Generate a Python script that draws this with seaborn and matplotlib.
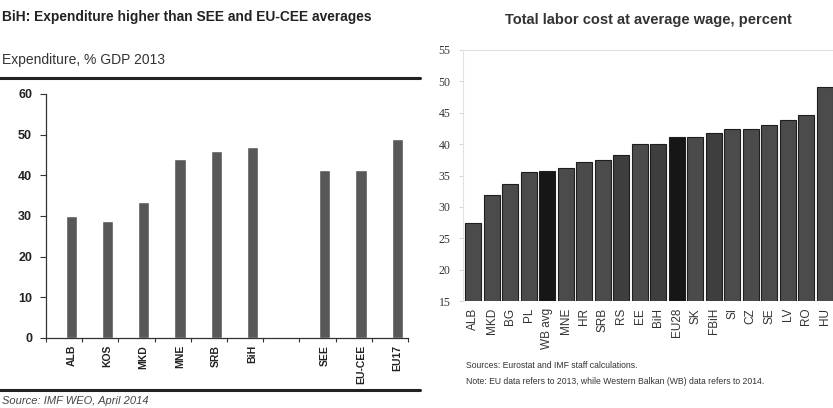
import numpy as np
import pandas as pd
import matplotlib
matplotlib.use("Agg")
import matplotlib.pyplot as plt
from matplotlib.lines import Line2D
import seaborn as sns

# ---- data ----
left_cats = ["ALB", "KOS", "MKD", "MNE", "SRB", "BiH", " ", "SEE", "EU-CEE", "EU17"]
left_vals = [30.0, 28.7, 33.5, 44.0, 46.0, 47.0, np.nan, 41.3, 41.3, 49.0]

right_cats = ["ALB", "MKD", "BG", "PL", "WB avg", "MNE", "HR", "SRB", "RS", "EE",
              "BiH", "EU28", "SK", "FBiH", "SI", "CZ", "SE", "LV", "RO", "HU"]
right_vals = [27.5, 31.9, 33.6, 35.6, 35.7, 36.2, 37.2, 37.5, 38.2, 40.0,
              40.0, 41.1, 41.1, 41.7, 42.4, 42.4, 43.0, 43.9, 44.6, 49.1]
right_colors = ["#4b4b4b", "#4b4b4b", "#4b4b4b", "#4b4b4b", "#161616", "#4b4b4b",
                "#4b4b4b", "#4b4b4b", "#3e3e3e", "#4b4b4b", "#3e3e3e", "#161616",
                "#4b4b4b", "#3e3e3e", "#4b4b4b", "#4b4b4b", "#4b4b4b", "#4b4b4b",
                "#4b4b4b", "#4b4b4b"]

sns.set_theme(style="white")
plt.rcParams["font.family"] = ["Liberation Sans", "DejaVu Sans"]

W, H = 833, 408
fig = plt.figure(figsize=(W / 100, H / 100), dpi=100)

def fx(px):
    return px / W

def fy(py):
    return 1 - py / H

# ---------------- left chart ----------------
axL = fig.add_axes([fx(46), fy(338), fx(408 - 46), fy(94) - fy(338)])
dfL = pd.DataFrame({"cat": left_cats, "val": left_vals})
sns.barplot(data=dfL, x="cat", y="val", order=left_cats, color="#585858",
            width=0.31, ax=axL, saturation=1)
axL.set_ylim(0, 60)
axL.set_xlim(-0.70, 9.30)
axL.set_yticks([0, 10, 20, 30, 40, 50, 60])
axL.set_yticklabels(["0", "10", "20", "30", "40", "50", "60"], fontsize=9,
                    fontweight="bold", color="#222222")
axL.set_xticks(range(len(left_cats)))
axL.set_xticklabels(left_cats, rotation=90, fontsize=7.5, fontweight="bold",
                    color="#222222")
axL.tick_params(axis="x", length=0, pad=5)
axL.set_xticks(np.arange(-0.70, 9.31, 1.0), minor=True)
axL.tick_params(axis="x", which="minor", length=3, width=0.8, color="#333333",
                direction="out", bottom=True)
axL.tick_params(axis="y", length=4, width=0.8, color="#333333", direction="out",
                left=True, pad=6)
axL.set_xlabel("")
axL.set_ylabel("")
for s in ["top", "right"]:
    axL.spines[s].set_visible(False)
for s in ["left", "bottom"]:
    axL.spines[s].set_color("#333333")
    axL.spines[s].set_linewidth(0.9)

fig.text(fx(2), fy(17), "BiH: Expenditure higher than SEE and EU-CEE averages",
         fontsize=9.9, fontweight="bold", color="#222222", va="center", ha="left")
fig.text(fx(2), fy(60), "Expenditure, % GDP 2013", fontsize=10, color="#333333",
         va="center", ha="left")
fig.add_artist(Line2D([0, fx(420)], [fy(78), fy(78)], color="#222222", lw=2.2))
fig.add_artist(Line2D([0, fx(420)], [fy(390), fy(390)], color="#222222", lw=2.2))
fig.text(fx(2), fy(401), "Source: IMF WEO, April 2014", fontsize=8,
         style="italic", color="#444444", va="center", ha="left")

# ---------------- right chart ----------------
axR = fig.add_axes([fx(463), fy(301), fx(834 - 463), fy(50) - fy(301)])
dfR = pd.DataFrame({"cat": right_cats, "val": right_vals})
sns.barplot(data=dfR, x="cat", y="val", hue="cat", order=right_cats,
            hue_order=right_cats, palette=right_colors, legend=False,
            width=0.87, ax=axR, saturation=1, edgecolor="#1e1e1e", linewidth=0.8)
axR.set_ylim(15, 55)
axR.set_xlim(-0.545, 19.49)
axR.set_yticks([15, 20, 25, 30, 35, 40, 45, 50, 55])
axR.set_yticklabels([str(v) for v in [15, 20, 25, 30, 35, 40, 45, 50, 55]],
                    fontsize=8.5, color="#333333", family="Liberation Serif")
axR.set_xticks(range(len(right_cats)))
axR.set_xticklabels(right_cats, rotation=90, fontsize=8.5, color="#333333")
axR.tick_params(axis="x", length=0, pad=5)
axR.tick_params(axis="y", length=3, width=0.6, color="#d0d0d0", direction="out",
                left=True, pad=6)
axR.set_xlabel("")
axR.set_ylabel("")
for s in ["bottom", "right"]:
    axR.spines[s].set_visible(False)
for s in ["top", "left"]:
    axR.spines[s].set_color("#e2e2e2")
    axR.spines[s].set_linewidth(0.8)

fig.text(fx(648), fy(20), "Total labor cost at average wage, percent",
         fontsize=10.5, fontweight="bold", color="#333333", va="center",
         ha="center")
fig.text(fx(466), fy(366), "Sources: Eurostat and IMF staff calculations.",
         fontsize=6.2, color="#333333", va="center", ha="left")
fig.text(fx(466), fy(381),
         "Note: EU data refers to 2013, while Western Balkan (WB) data refers to 2014.",
         fontsize=6.2, color="#333333", va="center", ha="left")

fig.savefig("out.png", dpi=100)
